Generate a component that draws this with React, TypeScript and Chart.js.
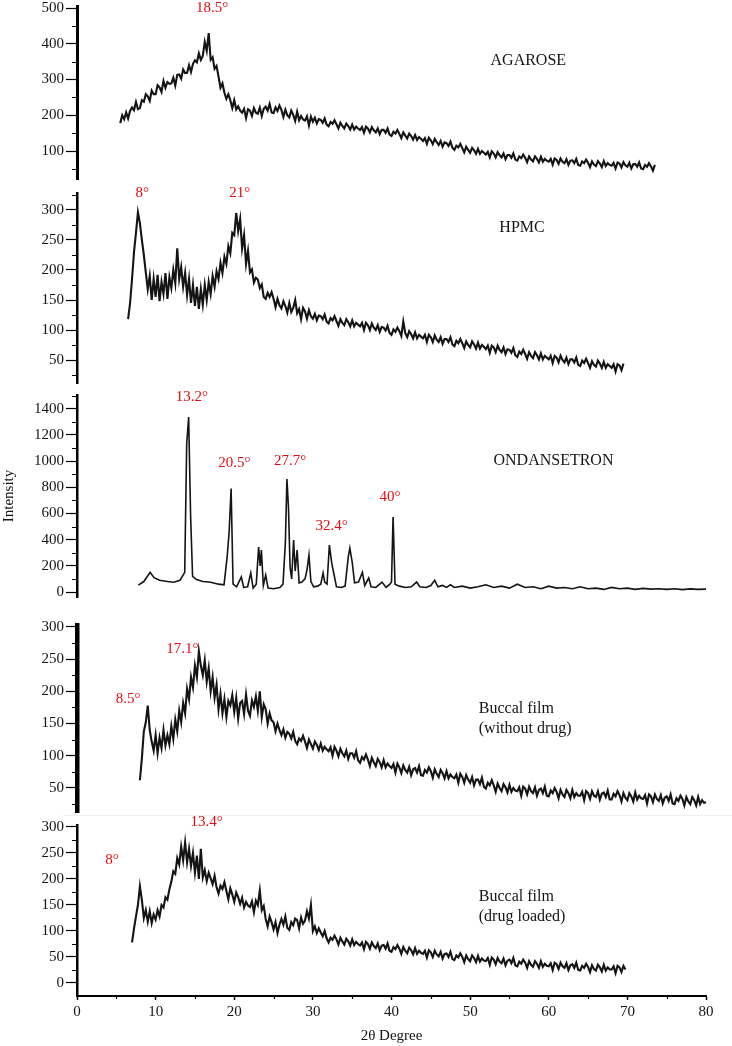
import React, { useEffect, useRef } from 'react';
import { Chart, registerables } from 'chart.js';

Chart.register(...registerables);

// ---------------- DATA ----------------
const SCAN_STEP = 0.25; // 2θ step of the diffractometer scans (degrees)

const agaroseStart = 5.5;
const agaroseIntensity = [
  178, 200,
  189, 208, 191, 212, 222, 214, 237, 217, 220, 242, 238, 259, 253, 240, 269, 259,
  259, 284, 278, 265, 296, 277, 293, 288, 289, 305, 283, 313, 314, 302, 328, 318,
  319, 340, 321, 344, 354, 348, 373, 355, 366, 405, 380, 430, 355, 362, 330, 338,
  308, 277, 289, 263, 246, 259, 242, 220, 242, 216, 225, 213, 207, 218, 192, 217,
  213, 198, 220, 207, 204, 221, 198, 218, 224, 213, 232, 208, 206, 222, 212, 227,
  215, 195, 216, 200, 194, 213, 201, 184, 210, 186, 198, 188, 185, 197, 171, 196,
  182, 193, 177, 189, 187, 179, 191, 174, 169, 181, 176, 186, 175, 163, 179, 170,
  163, 177, 170, 160, 174, 160, 168, 163, 159, 167, 151, 168, 163, 152, 167, 158,
  152, 163, 147, 159, 159, 151, 163, 146, 142, 154, 149, 159, 148, 136, 152, 143,
  135, 149, 142, 132, 145, 131, 139, 134, 128, 136, 120, 137, 130, 119, 134, 125,
  117, 128, 112, 124, 122, 114, 126, 109, 103, 115, 110, 120, 108, 96, 112, 103,
  95, 109, 102, 92, 106, 92, 100, 95, 90, 98, 82, 99, 93, 82, 97, 88,
  82, 93, 77, 89, 89, 81, 93, 76, 73, 85, 80, 90, 81, 69, 85, 76,
  71, 85, 78, 68, 84, 70, 78, 73, 70, 78, 62, 79, 75, 64, 79, 70,
  66, 77, 61, 73, 74, 66, 78, 61, 59, 71, 66, 76, 67, 55, 71, 62,
  58, 72, 65, 55, 72, 58, 66, 61, 59, 67, 51, 68, 65, 54, 69, 60,
  56, 67, 51, 63, 64, 56, 68, 51, 49, 61, 56, 66, 57, 45, 61,
];

const hpmcStart = 6.5;
const hpmcIntensity = [
  118, 145,
  185, 230, 262, 296, 278, 250, 225, 196, 168, 190, 150, 185, 155, 192, 148, 180,
  160, 195, 152, 188, 170, 200, 178, 236, 185, 205, 172, 195, 158, 185, 145, 175,
  140, 172, 135, 168, 142, 175, 150, 180, 160, 190, 172, 198, 185, 212, 195, 222,
  210, 240, 228, 262, 258, 295, 265, 285, 236, 258, 210, 232, 196, 201, 179, 187,
  184, 170, 176, 155, 152, 162, 155, 163, 152, 138, 152, 141, 136, 148, 140, 129,
  145, 130, 137, 150, 128, 135, 118, 137, 131, 119, 133, 123, 119, 127, 116, 124,
  123, 118, 126, 114, 111, 120, 116, 123, 115, 107, 118, 112, 108, 118, 113, 106,
  116, 106, 112, 109, 106, 112, 100, 112, 108, 100, 111, 104, 100, 108, 97, 105,
  104, 99, 107, 95, 92, 101, 97, 104, 98, 90, 114, 95, 88, 98, 93, 86,
  96, 86, 92, 89, 86, 92, 80, 92, 88, 80, 91, 84, 80, 88, 77, 85,
  85, 80, 88, 76, 73, 82, 78, 85, 78, 70, 81, 75, 71, 81, 76, 69,
  79, 69, 75, 72, 68, 74, 62, 74, 71, 63, 74, 67, 63, 71, 60, 68,
  67, 62, 70, 58, 55, 64, 60, 67, 60, 52, 63, 57, 53, 63, 58, 51,
  61, 51, 57, 54, 51, 57, 45, 57, 54, 46, 57, 50, 46, 54, 43, 51,
  51, 46, 54, 42, 40, 49, 45, 52, 45, 37, 48, 42, 39, 49, 44, 37,
  47, 37, 43, 40, 37, 43, 31, 43, 41, 33, 44,
];

const ondansetronAngles = [
  7.8, 8.5, 9.3, 9.8, 10.5, 11.5, 12.3, 13.1, 13.7, 13.95, 14.2, 14.45, 14.7, 15.2, 16.0, 17.0,
  18.0, 18.7, 19.1, 19.35, 19.6, 19.85, 20.3, 20.9, 21.2, 21.7, 22.1, 22.4, 22.8, 23.1, 23.3, 23.45,
  23.7, 24.0, 24.3, 25.0, 25.8, 26.2, 26.5, 26.7, 26.9, 27.1, 27.3, 27.55, 27.75, 28.0, 28.25, 28.6,
  29.0, 29.25, 29.5, 29.75, 30.1, 30.6, 31.0, 31.3, 31.5, 31.8, 32.1, 32.4, 32.7, 33.0, 33.6, 34.1,
  34.5, 34.7, 35.0, 35.3, 35.8, 36.3, 36.6, 37.1, 37.4, 38.0, 38.8, 39.3, 39.8, 40.0, 40.2, 40.45,
  41.0, 41.8, 42.5, 43.2, 43.6, 44.4, 45.0, 45.5, 45.9, 46.5, 47.0, 47.5, 48.0, 49.0, 50.0, 51.0,
  52.0, 53.0, 54.0, 55.0, 56.0, 57.0, 58.0, 59.0, 60.0, 61.0, 62.0, 63.0, 64.0, 65.0, 66.0, 67.0,
  68.0, 69.0, 70.0, 71.0, 72.0, 73.0, 74.0, 75.0, 76.0, 77.0, 78.0, 79.0, 80.0, 81.0,
];
const ondansetronIntensity = [
  53, 80, 150, 110, 90, 80, 75, 90, 150, 1130, 1335, 580, 120, 95, 80, 75,
  60, 55, 270, 460, 790, 60, 40, 115, 35, 40, 145, 30, 60, 343, 200, 320,
  50, 130, 30, 25, 35, 60, 375, 862, 640, 190, 100, 397, 160, 320, 70, 76,
  100, 168, 282, 80, 40, 45, 60, 145, 76, 60, 358, 220, 130, 40, 35, 45,
  267, 335, 229, 70, 76, 150, 50, 107, 40, 35, 76, 35, 60, 76, 572, 60,
  45, 35, 40, 76, 40, 35, 50, 90, 40, 50, 35, 55, 35, 45, 30, 40,
  55, 35, 45, 30, 60, 35, 40, 25, 45, 30, 35, 25, 40, 25, 30, 20,
  35, 25, 30, 20, 28, 22, 25, 20, 25, 18, 24, 20, 22, 18,
];

const buccalPlainStart = 8;
const buccalPlainIntensity = [
  62, 96, 138, 152, 178, 140, 122, 108, 132, 104, 128, 112, 140, 116, 132, 118,
  146, 126, 156, 138, 170, 152, 182, 166, 204, 188, 222, 206, 240, 222, 262, 240,
  225, 248, 215, 236, 200, 222, 190, 210, 172, 196, 166, 188, 160, 185, 178, 194,
  168, 190, 158, 182, 185, 165, 195, 170, 162, 186, 176, 192, 170, 200, 160, 180,
  172, 150, 166, 155, 152, 138, 150, 140, 132, 141, 128, 137, 134, 127, 137, 123,
  118, 127, 123, 131, 122, 112, 125, 118, 111, 122, 117, 109, 119, 108, 114, 110,
  107, 113, 100, 114, 108, 99, 111, 104, 99, 108, 95, 104, 104, 97, 107, 93,
  89, 98, 94, 102, 94, 84, 97, 90, 84, 95, 90, 82, 93, 82, 88, 84,
  81, 87, 74, 88, 82, 73, 85, 78, 74, 83, 70, 79, 81, 74, 84, 70,
  69, 78, 74, 82, 76, 66, 79, 72, 67, 78, 73, 65, 76, 65, 71, 67,
  65, 71, 58, 72, 67, 58, 70, 63, 58, 67, 54, 63, 63, 56, 66, 52,
  49, 58, 54, 62, 54, 44, 57, 50, 45, 56, 51, 43, 55, 44, 50, 46,
  45, 51, 38, 52, 49, 40, 52, 45, 42, 51, 38, 47, 49, 42, 52, 38,
  37, 46, 42, 50, 44, 34, 47, 40, 36, 47, 42, 34, 47, 36, 42, 38,
  38, 44, 31, 45, 42, 33, 45, 38, 36, 45, 32, 41, 43, 36, 46, 32,
  32, 41, 37, 45, 39, 29, 42, 35, 31, 42, 37, 29, 43, 32, 38, 34,
  33, 39, 26, 40, 37, 28, 40, 33, 30, 39, 26, 35, 37, 30, 40, 26,
  25, 34, 30, 38, 33, 23, 36, 29, 25, 36, 31, 23, 36, 25, 31, 27,
  28,
];

const buccalLoadedStart = 7;
const buccalLoadedIntensity = [
  78, 105, 128, 150, 186, 160, 125, 140, 118, 138, 115, 132, 122, 140, 128, 150,
  145, 165, 160, 180, 195, 215, 210, 240, 228, 262, 236, 270, 232, 258, 225, 250,
  212, 245, 200, 258, 203, 217, 196, 212, 201, 190, 206, 184, 172, 187, 181, 194,
  177, 161, 182, 170, 156, 174, 165, 152, 164, 145, 156, 149, 146, 157, 136, 158,
  150, 178, 140, 148, 123, 109, 128, 117, 103, 117, 96, 112, 123, 112, 128, 106,
  102, 117, 111, 124, 121, 105, 126, 114, 120, 138, 124, 150, 100, 109, 96, 105,
  97, 90, 100, 86, 78, 87, 83, 91, 84, 74, 87, 80, 74, 85, 80, 72,
  84, 73, 79, 75, 72, 78, 65, 79, 75, 66, 78, 71, 67, 76, 63, 72,
  73, 66, 76, 62, 60, 69, 65, 73, 66, 56, 69, 62, 57, 68, 63, 55,
  67, 56, 62, 58, 56, 62, 49, 63, 59, 50, 62, 55, 51, 60, 47, 56,
  57, 50, 60, 46, 44, 53, 49, 57, 50, 40, 53, 46, 42, 53, 48, 40,
  52, 41, 47, 43, 42, 48, 35, 49, 45, 36, 48, 41, 38, 47, 34, 43,
  45, 38, 48, 34, 32, 41, 37, 45, 39, 29, 42, 35, 31, 42, 37, 29,
  42, 31, 37, 33, 32, 38, 25, 39, 36, 27, 39, 32, 29, 38, 25, 34,
  36, 29, 39, 25, 24, 33, 29, 37, 31, 21, 34, 27, 24, 35, 30, 22,
  35, 24, 30, 26, 26, 32, 19, 33, 30, 21, 33, 26,
];

// Axis ticks
const xTickValues = [0, 10, 20, 30, 40, 50, 60, 70, 80];
const xMinorValues = [5, 15, 25, 35, 45, 55, 65, 75];
const agaroseTicks = [100, 200, 300, 400, 500];
const agaroseMinor = [50, 150, 250, 350, 450];
const hpmcTicks = [50, 100, 150, 200, 250, 300];
const hpmcMinor = [25, 75, 125, 175, 225, 275, 325];
const ondansetronTicks = [0, 200, 400, 600, 800, 1000, 1200, 1400];
const ondansetronMinor = [100, 300, 500, 700, 900, 1100, 1300, 1500];
const buccalPlainTicks = [50, 100, 150, 200, 250, 300];
const buccalPlainMinor = [25, 75, 125, 175, 225, 275];
const buccalLoadedTicks = [0, 50, 100, 150, 200, 250, 300];
const buccalLoadedMinor = [25, 75, 125, 175, 225, 275];

// Axis ranges (intensity)
const agaroseRange = [21.7, 505.6];
const hpmcRange = [11.7, 328.3];
const ondansetronRange = [-38, 1504];
const buccalPlainRange = [12.7, 303];
const buccalLoadedRange = [-25, 303.8];
const xRange = [0, 80];

// ---------------- STYLE / LAYOUT ----------------
const W = 732;
const H = 1046;
const AXIS_LEFT = 77;
const AXIS_RIGHT = 706;
const X_AXIS_H = 50;
const FONT = '"Liberation Serif", "Times New Roman", serif';
const RED = 'rgb(228,12,20)';
const INK = '#141414';

type Label = { text: string; x: number; y: number; color: string; align: CanvasTextAlign; size: number };

type PanelSpec = {
  key: string;
  points: { x: number; y: number }[];
  range: number[];
  ticks: number[];
  minor: number[];
  bandTop: number;
  bandBottom: number;
  axisTop: number;
  axisBottom: number;
  axisWidth: number;
  lineWidth: number;
  showX: boolean;
  yTitle?: string;
  labels: Label[];
};

const grid = (start: number, ys: number[]) => ys.map((y, i) => ({ x: start + i * SCAN_STEP, y }));
const pairs = (xs: number[], ys: number[]) => xs.map((x, i) => ({ x, y: ys[i] }));

const peak = (text: string, x: number, y: number): Label => ({ text, x, y, color: RED, align: 'center', size: 15 });
const name = (text: string, x: number, y: number, align: CanvasTextAlign = 'center'): Label => ({ text, x, y, color: INK, align, size: 16 });

const panels: PanelSpec[] = [
  {
    key: 'agarose', points: grid(agaroseStart, agaroseIntensity), range: agaroseRange,
    ticks: agaroseTicks, minor: agaroseMinor, bandTop: 0, bandBottom: 187, axisTop: 6, axisBottom: 179,
    axisWidth: 3, lineWidth: 2.1, showX: false,
    labels: [peak('18.5°', 17.2, 500), name('AGAROSE', 57.4, 352)],
  },
  {
    key: 'hpmc', points: grid(hpmcStart, hpmcIntensity), range: hpmcRange,
    ticks: hpmcTicks, minor: hpmcMinor, bandTop: 187, bandBottom: 388, axisTop: 193, axisBottom: 383,
    axisWidth: 2.5, lineWidth: 2.1, showX: false,
    labels: [peak('8°', 8.3, 328), peak('21°', 20.7, 328), name('HPMC', 56.6, 270)],
  },
  {
    key: 'ondansetron', points: pairs(ondansetronAngles, ondansetronIntensity), range: ondansetronRange,
    ticks: ondansetronTicks, minor: ondansetronMinor, bandTop: 388, bandBottom: 612, axisTop: 395, axisBottom: 597,
    axisWidth: 2.5, lineWidth: 1.6, showX: false, yTitle: 'Intensity',
    labels: [
      peak('13.2°', 14.6, 1492), peak('20.5°', 20.0, 987), peak('27.7°', 27.1, 1002),
      peak('32.4°', 32.4, 505), peak('40°', 39.8, 727), name('ONDANSETRON', 60.6, 1002),
    ],
  },
  {
    key: 'buccal-plain', points: grid(buccalPlainStart, buccalPlainIntensity), range: buccalPlainRange,
    ticks: buccalPlainTicks, minor: buccalPlainMinor, bandTop: 612, bandBottom: 814, axisTop: 625, axisBottom: 812,
    axisWidth: 4.5, lineWidth: 2.1, showX: false,
    labels: [
      peak('17.1°', 13.4, 266), peak('8.5°', 6.5, 188),
      name('Buccal film', 51.1, 173, 'left'), name('(without drug)', 51.1, 142, 'left'),
    ],
  },
  {
    key: 'buccal-loaded', points: grid(buccalLoadedStart, buccalLoadedIntensity), range: buccalLoadedRange,
    ticks: buccalLoadedTicks, minor: buccalLoadedMinor, bandTop: 814, bandBottom: H, axisTop: 825, axisBottom: 996,
    axisWidth: 2.5, lineWidth: 2.1, showX: true,
    labels: [
      peak('13.4°', 16.5, 309.6), peak('8°', 4.45, 236.5),
      name('Buccal film', 51.1, 165, 'left'), name('(drug loaded)', 51.1, 127, 'left'),
    ],
  },
];

function buildConfig(p: PanelSpec): any {
  const minorPlugin = {
    id: 'minorTicks',
    afterDraw(chart: any) {
      const { ctx, chartArea, scales } = chart;
      ctx.save();
      ctx.strokeStyle = '#000';
      ctx.lineWidth = 1.2;
      ctx.beginPath();
      for (const v of p.minor) {
        const py = Math.round(scales.y.getPixelForValue(v)) + 0.5;
        ctx.moveTo(chartArea.left - 5, py);
        ctx.lineTo(chartArea.left, py);
      }
      if (p.showX) {
        for (const v of xMinorValues) {
          const px = Math.round(scales.x.getPixelForValue(v)) + 0.5;
          ctx.moveTo(px, chartArea.bottom);
          ctx.lineTo(px, chartArea.bottom + 3);
        }
      }
      ctx.stroke();
      ctx.restore();
    },
  };
  const labelPlugin = {
    id: 'panelLabels',
    afterDraw(chart: any) {
      const { ctx, scales } = chart;
      ctx.save();
      ctx.textBaseline = 'middle';
      for (const l of p.labels) {
        ctx.font = `${l.size}px ${FONT}`;
        ctx.fillStyle = l.color;
        ctx.textAlign = l.align;
        ctx.fillText(l.text, scales.x.getPixelForValue(l.x), scales.y.getPixelForValue(l.y));
      }
      ctx.restore();
    },
  };
  return {
    type: 'line',
    data: {
      datasets: [
        {
          data: p.points,
          borderColor: INK,
          borderWidth: p.lineWidth,
          borderJoinStyle: 'miter',
          pointRadius: 0,
          tension: 0,
          fill: false,
          clip: false,
        },
      ],
    },
    options: {
      animation: false,
      responsive: false,
      events: [],
      layout: {
        padding: {
          left: 0,
          right: W - AXIS_RIGHT,
          top: p.axisTop - p.bandTop,
          bottom: p.showX ? p.bandBottom - p.axisBottom - X_AXIS_H : p.bandBottom - p.axisBottom,
        },
      },
      plugins: { legend: { display: false }, tooltip: { enabled: false } },
      scales: {
        x: {
          type: 'linear',
          min: xRange[0],
          max: xRange[1],
          display: p.showX,
          afterBuildTicks: (s: any) => { s.ticks = xTickValues.map((value) => ({ value })); },
          afterFit: (s: any) => {
            if (!p.showX) return;
            s.height = X_AXIS_H; s.paddingLeft = 0; s.paddingRight = 0;
          },
          grid: { drawOnChartArea: false, drawTicks: true, tickLength: 4, tickColor: '#000', tickWidth: 1.5 },
          border: { display: true, color: '#000', width: 2 },
          ticks: {
            autoSkip: false, maxRotation: 0, padding: 3, color: INK,
            font: { family: FONT, size: 15 },
            callback: (v: any) => String(v),
          },
          title: {
            display: p.showX, text: '2θ Degree', color: INK,
            font: { family: FONT, size: 15 }, padding: { top: 0, bottom: 1 },
          },
        },
        y: {
          type: 'linear',
          min: p.range[0],
          max: p.range[1],
          afterBuildTicks: (s: any) => { s.ticks = p.ticks.map((value) => ({ value })); },
          afterFit: (s: any) => { s.width = AXIS_LEFT; s.paddingTop = 0; s.paddingBottom = 0; },
          grid: { drawOnChartArea: false, drawTicks: true, tickLength: 11, tickColor: '#000', tickWidth: 1.2 },
          border: { display: true, color: '#000', width: p.axisWidth },
          ticks: {
            autoSkip: false, padding: 2, color: INK,
            font: { family: FONT, size: 15 },
            callback: (v: any) => String(v),
          },
          title: {
            display: !!p.yTitle, text: p.yTitle || '', color: INK,
            font: { family: FONT, size: 15 }, padding: { top: 0, bottom: 0 },
          },
        },
      },
    },
    plugins: [minorPlugin, labelPlugin],
  };
}

function PanelChart({ panel }: { panel: PanelSpec }) {
  const ref = useRef<HTMLCanvasElement | null>(null);
  useEffect(() => {
    if (!ref.current) return;
    const chart = new Chart(ref.current, buildConfig(panel));
    return () => chart.destroy();
  }, [panel]);
  const h = panel.bandBottom - panel.bandTop;
  return (
    <canvas
      ref={ref}
      width={W}
      height={h}
      style={{ position: 'absolute', left: 0, top: panel.bandTop, width: W, height: h, display: 'block' }}
    />
  );
}

export default function App() {
  return (
    <div style={{ position: 'absolute', left: 0, top: 0, width: W, height: H, background: '#fff', overflow: 'hidden' }}>
      <div style={{ position: 'absolute', left: 63, top: 815, width: W - 63, height: 1, background: '#efefef' }} />
      {panels.map((p) => (
        <PanelChart key={p.key} panel={p} />
      ))}
    </div>
  );
}
